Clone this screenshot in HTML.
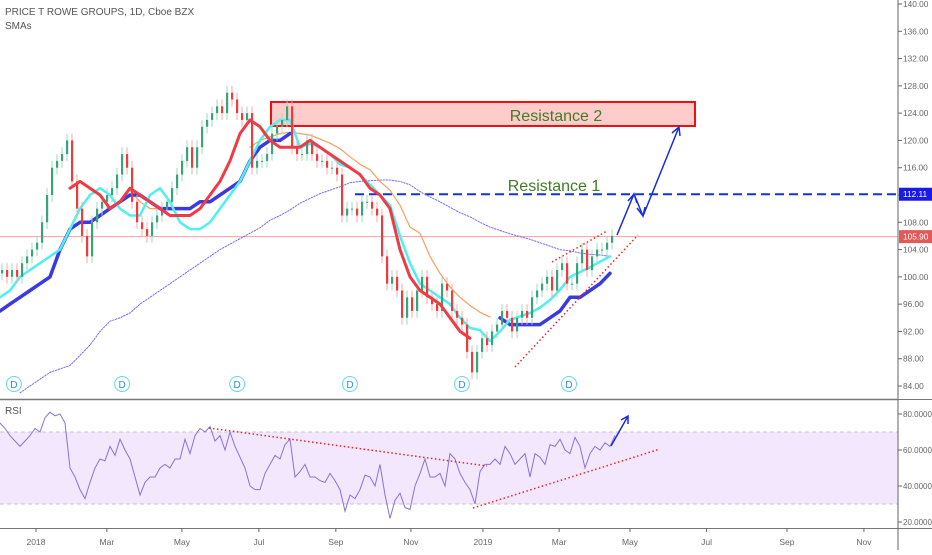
<!DOCTYPE html>
<html><head><meta charset="utf-8">
<style>
html,body{margin:0;padding:0;background:#fff;}
body{width:932px;height:550px;overflow:hidden;font-family:"Liberation Sans",sans-serif;}
svg text{font-family:"Liberation Sans",sans-serif;}
</style></head>
<body>
<svg id="chart" width="932" height="550" viewBox="0 0 932 550" xmlns="http://www.w3.org/2000/svg">
  <rect x="0" y="0" width="932" height="550" fill="#fff"/>
  <g id="rsiband"></g>
  <g id="main"></g>
  <g id="rsi"></g>
  <g id="axes"></g>
  <text x="5" y="15" font-size="10" fill="#555">PRICE T ROWE GROUPS, 1D, Cboe BZX</text>
  <text x="5" y="29" font-size="10" fill="#555">SMAs</text>
  <text x="5" y="414" font-size="10" fill="#555">RSI</text>
</svg>
<script>
// ---- data (x sampled every 5px for candles, 10px for indicators) ----
const closes = [101,100,101,100,102,103,104,105,108,112,116,117,118,120,114,110,106,103,108,110,111,112,113,115,118,116,111,108,107,106,108,109,110,111,113,115,117,119,116,119,122,123,124,125,124,127,126,124,123,124,116,117,117,118,121,122,123,125,119,118,118,120,118,117,117,116,116,115,109,110,110,109,111,111,110,109,103,99,100,98,94,97,95,98,100,97,96,95,99,98,95,94,93,89,86,89,91,90,92,93,95,94,92,94,95,94,97,98,99,100,98,101,102,99,99,102,104,101,103,104,104,105,106];
const cyanSma = [97,98,100,101,102,103,104,107,110,112,113,112,110,109,109,112,113,111,108,107,107,108,110,112,114,117,120,122,123,123,119,119.5,119,118,116.5,116,115,113.5,112,110.5,106,102,99,98,97,96,94,92.5,92.2,90.6,92,93.7,94.2,94.7,95.5,96.6,98.1,100,100.7,101.4,102.2,103];
const redSma = [null,null,null,null,null,null,null,113,114,113,112,110,111,113,112,111,110,109,109,109,110,112,114,117,121,123,122,120,119,119,119,120,119,118,117,116,115,113,112,110,104,100,98,97,96,94,92,91,null,null,null,null,null,null,null,null,null,null,null,null,null,null];
const blueSma = [95,96,97,98,99,100,104,107,108,108,109,110,111,112,112,111,110,110,110,110,111,111,112,113,114,117,119,120,120,121,null,null,null,null,null,null,null,null,null,null,null,null,null,null,null,null,null,null,null,null,94,93,93,93,93,94,95,97,97,98,99,100.5];
const orangeSma = [null,null,null,null,null,null,null,null,null,null,null,null,null,112.7,111,110,110,null,null,null,null,null,null,null,null,119,120,120.5,121,121.2,121,120.8,120.2,119.6,118.8,117.6,116.5,115.7,114,112.7,110.5,107.3,106.4,103,100.5,98.5,97,95.8,94.8,94.1,null,null,null,null,null,null,null,null,null,null,null,null];
const sma200 = [null,null,83,84,85,86,86.5,87,88.5,90,92,93.5,94,94.7,96,97,98,99,100,101,102,103,104,104.8,105.6,106.4,107.2,108.3,109,109.8,110.8,111.5,112.2,112.7,113.2,113.8,114,114.1,114.2,114.2,114,113.5,112.5,111.7,111,110.2,109.4,108.8,108,107.3,106.8,106.3,105.9,105.5,105,104.5,104,103.8,103.5,103.3,103.2,103];
const rsiValues = [75,72,68,65,62,65,68,72,70,78,81,79,80,75,50,45,38,33,42,50,55,54,62,57,66,60,55,45,35,42,45,45,50,52,50,55,55,66,58,68,72,70,73,65,68,60,70,62,56,50,40,38,38,47,52,57,55,63,66,45,48,52,45,45,43,42,47,43,38,26,35,33,38,46,45,40,52,35,22,32,36,28,27,40,47,55,45,45,47,40,58,55,47,42,38,30,48,52,52,55,52,62,58,52,55,58,45,58,56,52,63,62,66,60,58,67,62,50,58,62,60,64,62,68];
const priceTicks = [140,136,132,128,124,120,116,112,108,104,100,96,92,88,84];
const rsiTicks = [80,60,40,20];
const timeLabels = ["2018","Mar","May","Jul","Sep","Nov","2019","Mar","May","Jul","Sep","Nov"];
const timeMonths = [0,1.86,3.83,5.85,7.87,9.84,11.73,13.73,15.59,17.6,19.71,21.73];
const dividendMonths = [-0.58,2.26,5.28,8.24,11.18,13.99];

// ---- scales ----
const NS='http://www.w3.org/2000/svg';
const yP = p => 4 + (140 - p) * 6.8214;
const yR = r => 414 + (80 - r) * 1.8;
const xM = m => 36 + m * 38.1;
function mk(tag, attrs, parent){const e=document.createElementNS(NS,tag);for(const k in attrs)e.setAttribute(k,attrs[k]);parent.appendChild(e);return e;}
const main=document.getElementById('main'), rsiG=document.getElementById('rsi'), axes=document.getElementById('axes'), band=document.getElementById('rsiband');

// RSI band
let b=mk('rect',{x:0,y:yR(70),width:898,height:yR(30)-yR(70),fill:'#f3e7fd'},band);


[70,30].forEach(v=>{let l=mk('line',{x1:0,x2:898,y1:yR(v),y2:yR(v),stroke:'#c9bfd6','stroke-dasharray':'4 3'},band);

});

// Resistance 2 box
let r2=mk('rect',{x:271,y:102,width:424,height:24,fill:'#ffcccc',stroke:'#f01010','stroke-width':2},main);



// Resistance/last price lines
let pl=mk('line',{x1:0,x2:898,y1:yP(105.9),y2:yP(105.9),stroke:'#f5a0a0','stroke-width':1},main);


let r1=mk('line',{x1:355,x2:898,y1:yP(112.11),y2:yP(112.11),stroke:'#1030ee','stroke-width':2,'stroke-dasharray':'9 5'},main);



// SMA lines
function line(arr, step, attrs, name, g){
  let d='',pen=false;
  arr.forEach((v,i)=>{if(v===null){pen=false;return;} d+=(pen?'L':'M')+(i*step)+' '+yP(v).toFixed(1)+' ';pen=true;});
  const p=mk('path',Object.assign({d:d,fill:'none','stroke-linejoin':'round','stroke-linecap':'round'},attrs),g);
  
  
}
line(sma200,10,{stroke:'#7b68ee','stroke-width':1,'stroke-dasharray':'1.5 1.5'},'sma-200-line',main);
line(orangeSma,10,{stroke:'#f6a060','stroke-width':1.2},'sma-100-line',main);
line(blueSma,10,{stroke:'#3a3ae0','stroke-width':3.5},'sma-50-line',main);
line(cyanSma,10,{stroke:'#4ef0f0','stroke-width':2.5},'sma-10-line',main);

// candles
const cg=mk('g',{},main);


closes.forEach((c,i)=>{
  const o=i>0?closes[i-1]:c-0.5; const x=i*5+2; const up=c>=o;
  const col=up?'#3aa37a':'#ee3b3b';
  const hi=Math.max(o,c)+1, lo=Math.min(o,c)-1;
  const w=mk('line',{x1:x,x2:x,y1:yP(hi),y2:yP(lo),stroke:up?'#9fd8c0':'#f7a8a8','stroke-width':1},cg);
  
  
  const top=yP(Math.max(o,c)), h=Math.max(1,yP(Math.min(o,c))-top);
  const r=mk('rect',{x:x-1,y:top,width:2.2,height:h,fill:col},cg);
  
  
});
line(redSma,10,{stroke:'#ee3b45','stroke-width':3},'sma-20-line',main);

// trend lines
[[552,262,607,231],[515,367,638,235]].forEach((a,i)=>{let t=mk('line',{x1:a[0],y1:a[1],x2:a[2],y2:a[3],stroke:'#ee2222','stroke-width':1.5,'stroke-dasharray':'1.5 2.5'},main);

});

// projection arrows
let ar=mk('path',{d:'M617 235 L634 194 L643 216 L679 127 M628 201 L634 194 L637 203 M637 208 L643 216 L645 207 M672 133 L679 127 L680 136',fill:'none',stroke:'#1a2be0','stroke-width':1.5},main);



// labels
let t2=mk('text',{x:556,y:121,'font-size':16,fill:'#3e7d22','text-anchor':'middle'},main);t2.textContent='Resistance 2';


let t1=mk('text',{x:554,y:191,'font-size':16,fill:'#3e7d22','text-anchor':'middle'},main);t1.textContent='Resistance 1';



// dividend markers
dividendMonths.forEach(m=>{
  const g=mk('g',{},main);
  
  
  mk('circle',{cx:xM(m),cy:384,r:7.5,fill:'#fff',stroke:'#60d8f0','stroke-width':1},g);
  const t=mk('text',{x:xM(m),y:388,'font-size':10,fill:'#2a90d8','text-anchor':'middle'},g);t.textContent='D';
});

// RSI line
{let d='';rsiValues.forEach((v,i)=>{d+=(i?'L':'M')+(i*5)+' '+yR(v).toFixed(1)+' ';});
const p=mk('path',{d:d,fill:'none',stroke:'#8a70d8','stroke-width':1},rsiG);

}
[[209,428,487,466],[473,508,660,449]].forEach(a=>{let t=mk('line',{x1:a[0],y1:a[1],x2:a[2],y2:a[3],stroke:'#ee2222','stroke-width':1.5,'stroke-dasharray':'1.5 2.5'},rsiG);

});
let ra=mk('path',{d:'M611 446 L628 416 M621 420 L628 416 L628 424',fill:'none',stroke:'#1a2be0','stroke-width':1.5},rsiG);



// axes
const ax=(a)=>mk('line',a,axes);
let e;
e=ax({x1:898,x2:898,y1:0,y2:550,stroke:'#666','stroke-width':1});
e=ax({x1:0,x2:898,y1:399.5,y2:399.5,stroke:'#777','stroke-width':1.5});
e=ax({x1:0,x2:932,y1:528.5,y2:528.5,stroke:'#777','stroke-width':1});
e=ax({x1:898,x2:932,y1:399.5,y2:399.5,stroke:'#777','stroke-width':1});
priceTicks.forEach(p=>{
  ax({x1:898,x2:902,y1:yP(p),y2:yP(p),stroke:'#666'});
  const t=mk('text',{x:903,y:yP(p)+3,'font-size':8.3,fill:'#666'},axes);t.textContent=p.toFixed(2);
  
  
});
rsiTicks.forEach(v=>{
  ax({x1:898,x2:902,y1:yR(v),y2:yR(v),stroke:'#666'});
  const t=mk('text',{x:903,y:yR(v)+3,'font-size':8,fill:'#666'},axes);t.textContent=v.toFixed(4);
  
  
});
timeLabels.forEach((l,i)=>{
  const x=xM(timeMonths[i]);
  ax({x1:x,x2:x,y1:528,y2:532,stroke:'#666'});
  const t=mk('text',{x:x,y:545,'font-size':8.5,fill:'#666','text-anchor':'middle'},axes);t.textContent=l;
  
  
});
// price tags
[[112.11,'#1a1ae8','112.11','resistance-price-tag'],[105.9,'#e05a5a','105.90','last-price-tag']].forEach(a=>{
  const g=mk('g',{},axes);
  
  
  mk('rect',{x:899,y:yP(a[0])-6.5,width:33,height:13,fill:a[1]},g);
  const t=mk('text',{x:903,y:yP(a[0])+3,'font-size':8.3,fill:'#fff'},g);t.textContent=a[2];
});
</script>
</body></html>
